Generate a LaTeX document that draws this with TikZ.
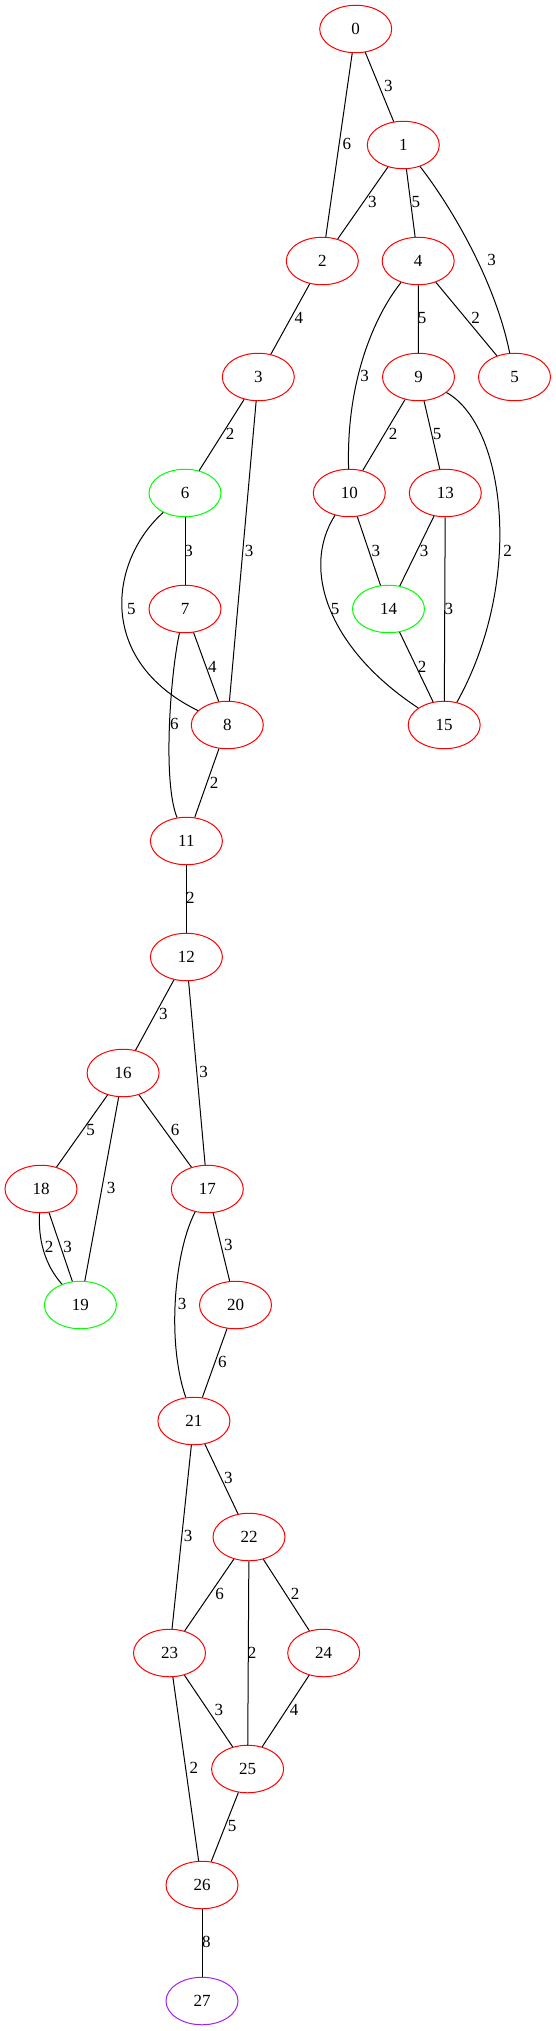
\documentclass[tikz,border=0pt]{standalone}
\usepackage{fontspec}
\setmainfont{Liberation Serif}
\usetikzlibrary{shapes.geometric}
\definecolor{gvred}{RGB}{255,0,0}
\definecolor{gvgreen}{RGB}{0,255,0}
\definecolor{gvpurple}{RGB}{160,32,240}
\tikzset{
  vtx/.style={ellipse, draw=gvred, line width=1pt, minimum width=72pt, minimum height=47.5pt, inner sep=0pt, font=\fontsize{17}{17}\selectfont},
  gvtx/.style={vtx, draw=gvgreen},
  pvtx/.style={vtx, draw=gvpurple},
  edg/.style={line width=1pt, draw=black},
  lbl/.style={inner sep=0pt, font=\fontsize{17}{17}\selectfont}
}
\begin{document}
\begin{tikzpicture}[x=1pt,y=-1pt]
\useasboundingbox (0,0) rectangle (556,2031);
% nodes
\node[vtx] (n0) at (355.7,29) {0};
\node[vtx] (n1) at (403.3,145) {1};
\node[vtx] (n2) at (322.3,261) {2};
\node[vtx] (n4) at (418.2,261) {4};
\node[vtx] (n3) at (258.3,377) {3};
\node[vtx] (n9) at (418.5,377) {9};
\node[vtx] (n5) at (514.5,377) {5};
\node[gvtx] (n6) at (185,493) {6};
\node[vtx] (n10) at (349.3,493) {10};
\node[vtx] (n13) at (445.3,493) {13};
\node[vtx] (n7) at (185,609) {7};
\node[gvtx] (n14) at (388.5,609) {14};
\node[vtx] (n8) at (227.3,725) {8};
\node[vtx] (n15) at (444.2,725) {15};
\node[vtx] (n11) at (186.4,841) {11};
\node[vtx] (n12) at (186.4,957) {12};
\node[vtx] (n16) at (123.1,1073) {16};
\node[vtx] (n18) at (41,1189) {18};
\node[vtx] (n17) at (207.3,1189) {17};
\node[gvtx] (n19) at (80.4,1305) {19};
\node[vtx] (n20) at (235.5,1305) {20};
\node[vtx] (n21) at (193.9,1421) {21};
\node[vtx] (n22) at (249,1537) {22};
\node[vtx] (n23) at (169.5,1653) {23};
\node[vtx] (n24) at (323.7,1653) {24};
\node[vtx] (n25) at (247.6,1769) {25};
\node[vtx] (n26) at (202,1885) {26};
\node[pvtx] (n27) at (202,2001) {27};
% edges
\draw[edg] (n0) -- (n1);
\draw[edg] (n0) -- (n2);
\draw[edg] (n1) -- (n2);
\draw[edg] (n1) -- (n4);
\draw[edg] (n1) .. controls (450,205) and (495,280) .. (n5);
\draw[edg] (n2) -- (n3);
\draw[edg] (n4) -- (n9);
\draw[edg] (n4) -- (n5);
\draw[edg] (n4) .. controls (375,315) and (346,380) .. (n10);
\draw[edg] (n3) -- (n6);
\draw[edg] (n3) -- (n8);
\draw[edg] (n6) -- (n7);
\draw[edg] (n6) .. controls (110,560) and (95,660) .. (n8);
\draw[edg] (n7) -- (n8);
\draw[edg] (n7) .. controls (171,670) and (162,780) .. (n11);
\draw[edg] (n8) -- (n11);
\draw[edg] (n9) -- (n10);
\draw[edg] (n9) -- (n13);
\draw[edg] (n9) .. controls (505,425) and (525,580) .. (n15);
\draw[edg] (n10) -- (n14);
\draw[edg] (n10) .. controls (300,570) and (330,650) .. (n15);
\draw[edg] (n13) -- (n14);
\draw[edg] (n13) -- (n15);
\draw[edg] (n14) -- (n15);
\draw[edg] (n11) -- (n12);
\draw[edg] (n12) -- (n16);
\draw[edg] (n12) -- (n17);
\draw[edg] (n16) -- (n18);
\draw[edg] (n16) -- (n19);
\draw[edg] (n16) -- (n17);
\draw[edg] (n18) .. controls (38,1240) and (45,1265) .. (n19);
\draw[edg] (n18) -- (n19);
\draw[edg] (n17) -- (n20);
\draw[edg] (n17) .. controls (175,1250) and (166,1340) .. (n21);
\draw[edg] (n20) -- (n21);
\draw[edg] (n21) -- (n22);
\draw[edg] (n21) -- (n23);
\draw[edg] (n22) -- (n23);
\draw[edg] (n22) -- (n25);
\draw[edg] (n22) -- (n24);
\draw[edg] (n23) -- (n25);
\draw[edg] (n23) -- (n26);
\draw[edg] (n24) -- (n25);
\draw[edg] (n25) -- (n26);
\draw[edg] (n26) -- (n27);
% edge labels
\node[lbl] (l01) at (388.4,86) {3};
\node[lbl] (l02) at (346.8,144.3) {6};
\node[lbl] (l12) at (372.4,201.7) {3};
\node[lbl] (l14) at (415.8,201.7) {5};
\node[lbl] (l15) at (491.5,260) {3};
\node[lbl] (l23) at (298.8,318.3) {4};
\node[lbl] (l49) at (422.2,318.3) {5};
\node[lbl] (l45) at (475.5,318.3) {2};
\node[lbl] (l410) at (364.6,376) {3};
\node[lbl] (l36) at (230.1,434.3) {2};
\node[lbl] (l38) at (249,550.7) {3};
\node[lbl] (l67) at (188.5,550.7) {3};
\node[lbl] (l68) at (131.3,609) {5};
\node[lbl] (l78) at (212.4,666.7) {4};
\node[lbl] (l711) at (174.3,724) {6};
\node[lbl] (l811) at (214.1,782.7) {2};
\node[lbl] (l910) at (393,434.3) {2};
\node[lbl] (l913) at (437.1,434.3) {5};
\node[lbl] (l915) at (507.5,550.7) {2};
\node[lbl] (l1014) at (375.9,550.7) {3};
\node[lbl] (l1015) at (335,609) {5};
\node[lbl] (l1314) at (424,550.7) {3};
\node[lbl] (l1315) at (448.8,609) {3};
\node[lbl] (l1415) at (422.2,666.7) {2};
\node[lbl] (l1112) at (190.3,898.3) {2};
\node[lbl] (l1216) at (163.3,1014.3) {3};
\node[lbl] (l1217) at (203.5,1072.3) {3};
\node[lbl] (l1618) at (90.7,1130) {5};
\node[lbl] (l1619) at (111,1188.3) {3};
\node[lbl] (l1617) at (175,1130) {6};
\node[lbl] (l1819a) at (49,1246.7) {2};
\node[lbl] (l1819b) at (67.7,1246.7) {3};
\node[lbl] (l1720) at (228.4,1245) {3};
\node[lbl] (l1721) at (182.1,1304) {3};
\node[lbl] (l2021) at (222.3,1362.3) {6};
\node[lbl] (l2122) at (228.4,1478.3) {3};
\node[lbl] (l2123) at (188.2,1536) {3};
\node[lbl] (l2223) at (219.5,1594) {6};
\node[lbl] (l2224) at (295.2,1594) {2};
\node[lbl] (l2225) at (252.2,1653.3) {2};
\node[lbl] (l2325) at (218.8,1710) {3};
\node[lbl] (l2425) at (294.1,1710) {4};
\node[lbl] (l2326) at (193.9,1768.3) {2};
\node[lbl] (l2526) at (232,1825.7) {5};
\node[lbl] (l2627) at (206.3,1942.3) {8};
\end{tikzpicture}
\end{document}
